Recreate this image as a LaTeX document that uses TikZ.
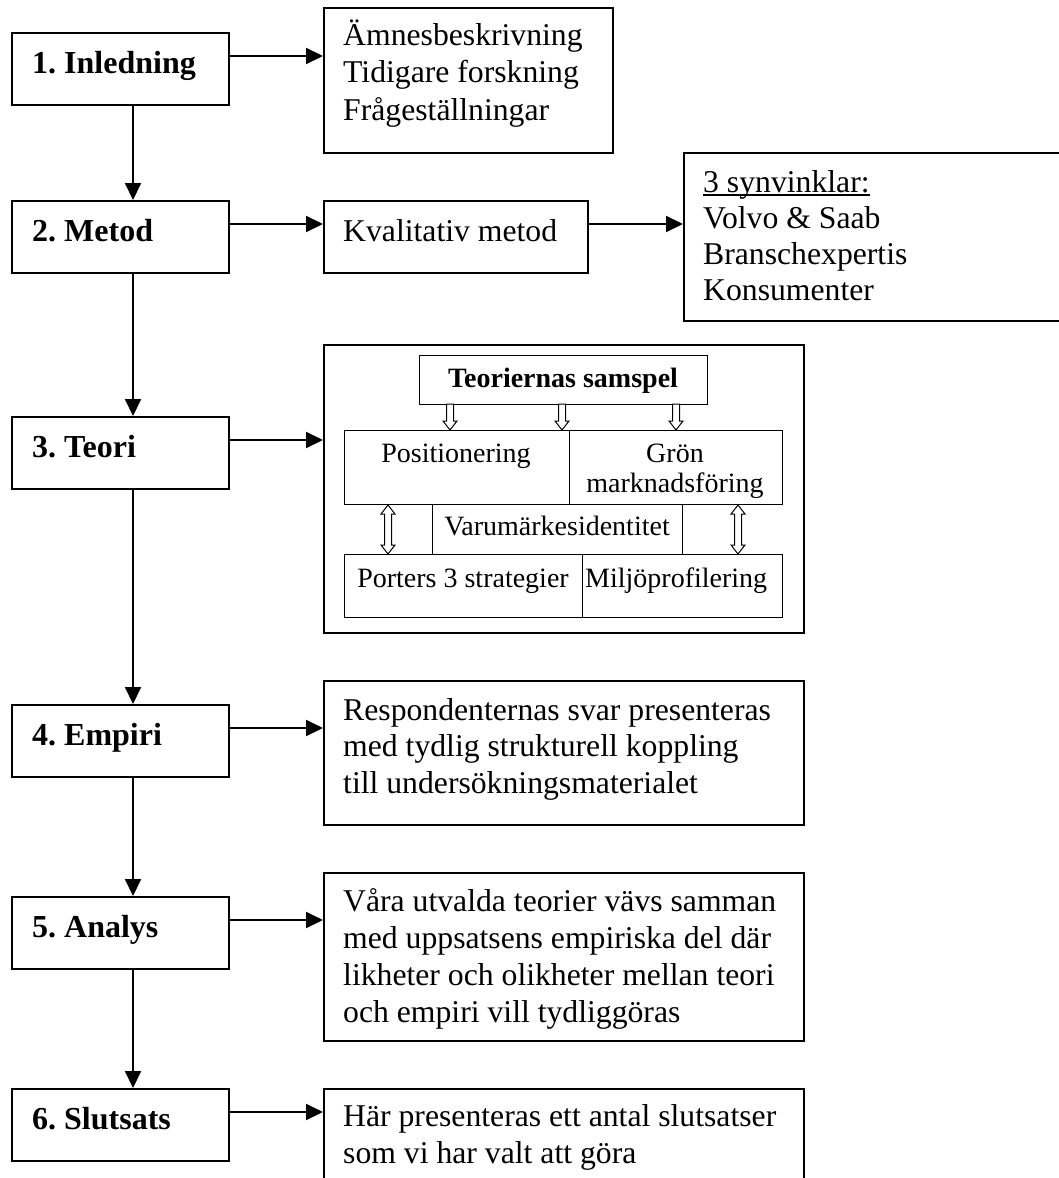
\documentclass[tikz,border=0pt]{standalone}
\usepackage{fontspec}
\setmainfont{Liberation Serif}
\usetikzlibrary{arrows.meta,calc}
\frenchspacing
\newcommand\myul[1]{\setbox0=\hbox{#1}\rlap{\rule[-3.5pt]{\wd0}{1.6pt}}\box0}
\tikzset{
  mainbox/.style={draw, line width=2pt, inner sep=0pt, anchor=north west},
  innerbox/.style={draw, line width=1.1pt, inner sep=0pt, anchor=north west},
  conn/.style={line width=2pt, -{Triangle[length=17pt,width=16pt]}},
  hollow/.style={draw, line width=1pt, fill=white, line join=miter},
  steplabel/.style={anchor=base west, inner sep=0pt, font=\bfseries\fontsize{32}{36.5}\selectfont},
  bodytext/.style={anchor=base west, inner sep=0pt, align=left, font=\fontsize{31.7}{36.5}\selectfont},
  innertext/.style={anchor=base, inner sep=0pt, align=center, font=\fontsize{28}{30}\selectfont},
}
\newcommand\boxnode[6]{\node[#1, minimum width={(#5-#3)*1pt}, minimum height={(#6-#4)*1pt}] (#2) at (#3,#4) {};}
\newcommand\hdown[3]{\draw[hollow] ({#1-3.5},#2) -- ({#1+3.5},#2) -- ({#1+3.5},{#3-9}) -- ({#1+7},{#3-9}) -- (#1,#3) -- ({#1-7},{#3-9}) -- ({#1-3.5},{#3-9}) -- cycle;}
\newcommand\hboth[3]{\draw[hollow] ({#1-3.5},{#2+9}) -- ({#1-7},{#2+9}) -- (#1,#2) -- ({#1+7},{#2+9}) -- ({#1+3.5},{#2+9}) -- ({#1+3.5},{#3-9}) -- ({#1+7},{#3-9}) -- (#1,#3) -- ({#1-7},{#3-9}) -- ({#1-3.5},{#3-9}) -- cycle;}
\begin{document}
\begin{tikzpicture}[x=1pt,y=-1pt]
\useasboundingbox (0,0) rectangle (1059,1178);
% left column
\boxnode{mainbox}{b1}{11}{32}{228}{104}
\boxnode{mainbox}{b2}{11}{200}{228}{272}
\boxnode{mainbox}{b3}{11}{416}{228}{488}
\boxnode{mainbox}{b4}{11}{704}{228}{776}
\boxnode{mainbox}{b5}{11}{896}{228}{968}
\boxnode{mainbox}{b6}{11}{1088}{228}{1160}
\node[steplabel] (t1) at (32,73) {1. Inledning};
\node[steplabel] (t2) at (32,241) {2. Metod};
\node[steplabel] (t3) at (32,457) {3. Teori};
\node[steplabel] (t4) at (32,745) {4. Empiri};
\node[steplabel] (t5) at (32,937) {5. Analys};
\node[steplabel] (t6) at (32,1129) {6. Slutsats};
% right column boxes
\boxnode{mainbox}{r1}{323}{7}{612}{152}
\boxnode{mainbox}{r2}{323}{200}{587}{272}
\boxnode{mainbox}{r2b}{683}{152}{1066}{320}
\boxnode{mainbox}{r3}{323}{344}{803}{632}
\boxnode{mainbox}{r4}{323}{680}{803}{824}
\boxnode{mainbox}{r5}{323}{872}{803}{1040}
\boxnode{mainbox}{r6}{323}{1088}{803}{1210}
\node[bodytext, font=\fontsize{31.7}{37.5}\selectfont] (x1) at (343,120) {Ämnesbeskrivning\\Tidigare forskning\\Frågeställningar};
\node[bodytext] (x2) at (343,241) {Kvalitativ metod};
\node[bodytext, font=\fontsize{31.7}{36}\selectfont] (x2b) at (703,300) {\myul{3 synvinklar:}\\Volvo \& Saab\\Branschexpertis\\Konsumenter};
\node[bodytext] (x4) at (343,793) {Respondenternas svar presenteras\\med tydlig strukturell koppling\\till undersökningsmaterialet};
\node[bodytext, font=\fontsize{31.7}{36.7}\selectfont] (x5) at (343,1022) {Våra utvalda teorier vävs samman\\med uppsatsens empiriska del där\\likheter och olikheter mellan teori\\och empiri vill tydliggöras};
\node[bodytext] (x6) at (343,1163) {Här presenteras ett antal slutsatser\\som vi har valt att göra};
% Teori inner diagram
\boxnode{innerbox}{ts}{419}{355}{707}{404}
\boxnode{innerbox}{pos}{344}{430}{569}{504}
\boxnode{innerbox}{gron}{569}{430}{782}{504}
\boxnode{innerbox}{var}{432}{504}{682}{554}
\boxnode{innerbox}{por}{344}{554}{582}{617}
\boxnode{innerbox}{mil}{582}{554}{782}{617}
\node[innertext, font=\bfseries\fontsize{28}{30}\selectfont] (tts) at (563,387) {Teoriernas samspel};
\node[innertext] (tpos) at (456,462) {Positionering};
\node[innertext] (tgron) at (675,492) {Grön\\marknadsföring};
\node[innertext] (tvar) at (557,535) {Varumärkesidentitet};
\node[innertext] (tpor) at (463,587) {Porters 3 strategier};
\node[innertext, anchor=base west] (tmil) at (585,587) {Miljöprofilering};
\hdown{450}{404}{430}
\hdown{562}{404}{430}
\hdown{676}{404}{430}
\hboth{388}{505}{554}
\hboth{738}{505}{554}
% vertical connectors
\draw[conn] ([xshift=12.5pt]b1.south) -- ([xshift=12.5pt]b2.north);
\draw[conn] ([xshift=12.5pt]b2.south) -- ([xshift=12.5pt]b3.north);
\draw[conn] ([xshift=12.5pt]b3.south) -- ([xshift=12.5pt]b4.north);
\draw[conn] ([xshift=12.5pt]b4.south) -- ([xshift=12.5pt]b5.north);
\draw[conn] ([xshift=12.5pt]b5.south) -- ([xshift=12.5pt]b6.north);
% horizontal connectors
\coordinate (a1) at ($(b1.north east)+(0,24)$);
\coordinate (a2) at ($(b2.north east)+(0,24)$);
\coordinate (a3) at ($(b3.north east)+(0,24)$);
\coordinate (a4) at ($(b4.north east)+(0,24)$);
\coordinate (a5) at ($(b5.north east)+(0,24)$);
\coordinate (a6) at ($(b6.north east)+(0,24)$);
\coordinate (a7) at ($(r2.north east)+(0,24)$);
\draw[conn] (a1) -- (a1 -| r1.west);
\draw[conn] (a2) -- (a2 -| r2.west);
\draw[conn] (a3) -- (a3 -| r3.west);
\draw[conn] (a4) -- (a4 -| r4.west);
\draw[conn] (a5) -- (a5 -| r5.west);
\draw[conn] (a6) -- (a6 -| r6.west);
\draw[conn] (a7) -- (a7 -| r2b.west);
\end{tikzpicture}
\end{document}
